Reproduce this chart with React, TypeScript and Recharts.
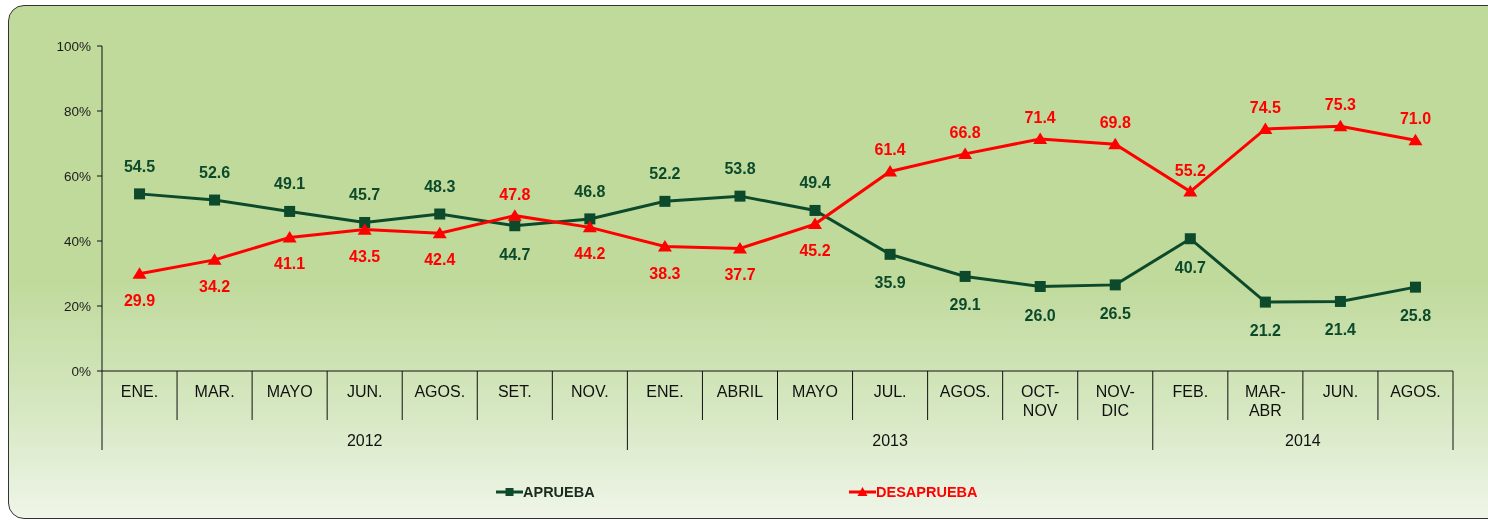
import React from "react";
import { LineChart, Line, XAxis, YAxis, Legend, LabelList } from "recharts";

// periods shown on the x axis ("\n" splits two-line labels)
const months = [
  "ENE.", "MAR.", "MAYO", "JUN.", "AGOS.", "SET.", "NOV.",
  "ENE.", "ABRIL", "MAYO", "JUL.", "AGOS.", "OCT-\nNOV", "NOV-\nDIC",
  "FEB.", "MAR-\nABR", "JUN.", "AGOS.",
];

const yearGroups = [
  { year: "2012", count: 7 },
  { year: "2013", count: 7 },
  { year: "2014", count: 4 },
];

const aprueba = [54.5, 52.6, 49.1, 45.7, 48.3, 44.7, 46.8, 52.2, 53.8, 49.4, 35.9, 29.1, 26.0, 26.5, 40.7, 21.2, 21.4, 25.8];
const desaprueba = [29.9, 34.2, 41.1, 43.5, 42.4, 47.8, 44.2, 38.3, 37.7, 45.2, 61.4, 66.8, 71.4, 69.8, 55.2, 74.5, 75.3, 71.0];

const yTicks = [0, 20, 40, 60, 80, 100];

const data = months.map((month, i) => ({
  month,
  aprueba: aprueba[i],
  desaprueba: desaprueba[i],
}));

const W = 1488;
const H = 521;
const PLOT_LEFT = 102;
const PLOT_RIGHT = 1453;
const BAND = (PLOT_RIGHT - PLOT_LEFT) / months.length;
const GREEN = "#0C4A2B";
const RED = "#FF0000";
const FONT = "'Liberation Sans', Arial, sans-serif";

// index at which each year group starts
const groupStarts: number[] = [];
yearGroups.reduce((acc, g) => {
  groupStarts.push(acc);
  return acc + g.count;
}, 0);

function MonthTick(props: any) {
  const { x, y, payload } = props;
  const i = payload?.index ?? props.index;
  const left = x - BAND / 2;
  const g = groupStarts.indexOf(i);
  const lines = String(payload.value).split("\n");
  return (
    <g>
      <line x1={left} x2={left} y1={y} y2={y + (g >= 0 ? 79 : 49)} stroke="#111" strokeWidth={1} />
      {i === months.length - 1 && (
        <line x1={x + BAND / 2} x2={x + BAND / 2} y1={y} y2={y + 79} stroke="#111" strokeWidth={1} />
      )}
      {lines.map((t, k) => (
        <text key={k} x={x} y={y + 25.5 + k * 19.5} textAnchor="middle" fontSize={16} fill="#111" fontFamily={FONT}>
          {t}
        </text>
      ))}
      {g >= 0 && (
        <text x={left + (yearGroups[g].count * BAND) / 2} y={y + 75} textAnchor="middle" fontSize={16} fill="#111" fontFamily={FONT}>
          {yearGroups[g].year}
        </text>
      )}
    </g>
  );
}

const SquareDot = (props: any) => {
  const { cx, cy, index } = props;
  return <rect key={`s-${index}`} x={cx - 5.5} y={cy - 5.5} width={11} height={11} fill={GREEN} />;
};

const TriangleDot = (props: any) => {
  const { cx, cy, index } = props;
  return <path key={`t-${index}`} d={`M${cx},${cy - 6.5} L${cx + 7},${cy + 5} L${cx - 7},${cy + 5} Z`} fill={RED} />;
};

function makeLabel(series: "a" | "d") {
  return (props: any) => {
    const vb = props.viewBox || {};
    const px = props.x ?? vb.x;
    const py = props.y ?? vb.y;
    const i = props.index;
    const value = Number(props.value);
    const other = series === "a" ? desaprueba[i] : aprueba[i];
    const above = value >= other;
    const dy = above ? (series === "a" ? -22 : -16) : (series === "a" ? 34 : 32);
    return (
      <text x={px} y={py + dy} textAnchor="middle" fontSize={16} fontWeight="bold" fill={series === "a" ? GREEN : RED} fontFamily={FONT}>
        {value.toFixed(1)}
      </text>
    );
  };
}

function LegendContent() {
  const item = (left: number, name: string, color: string, textColor: string, marker: React.ReactNode) => (
    <div style={{ position: "absolute", left, top: 0, display: "flex", alignItems: "center", height: 24 }}>
      <svg width={27} height={14}>
        <line x1={0} x2={27} y1={7} y2={7} stroke={color} strokeWidth={3} />
        {marker}
      </svg>
      <span style={{ fontFamily: FONT, fontWeight: "bold", fontSize: 14.5, color: textColor }}>{name}</span>
    </div>
  );
  return (
    <div style={{ position: "relative", width: W, height: 24 }}>
      {item(496, "APRUEBA", GREEN, "#1B2B1E", <rect x={9.5} y={3} width={8} height={8} fill={GREEN} />)}
      {item(849, "DESAPRUEBA", RED, RED, <path d="M13.5,2 L18.5,11 L8.5,11 Z" fill={RED} />)}
    </div>
  );
}

export default function App() {
  return (
    <div style={{ position: "fixed", left: 0, top: 0, width: W, height: H, overflow: "hidden" }}>
      <div
        style={{
          position: "absolute",
          left: 8,
          top: 5,
          width: 1520,
          height: 512,
          borderRadius: 16,
          border: "1.5px solid #333",
          background: "linear-gradient(to bottom, #C0DA9C 0%, #C0DA9C 54%, #D5E7C0 78%, #EFF5E8 100%)",
        }}
      />
      <div style={{ position: "absolute", left: 0, top: 0 }}>
        <LineChart width={W} height={H} data={data} margin={{ top: 46, right: 35, left: 42, bottom: 50 }}>
          <XAxis
            dataKey="month"
            height={100}
            interval={0}
            padding={{ left: BAND / 2, right: BAND / 2 }}
            tickLine={false}
            tickSize={0}
            tickMargin={0}
            axisLine={{ stroke: "#111", strokeWidth: 1 }}
            tick={<MonthTick />}
          />
          <YAxis
            domain={[0, 100]}
            ticks={yTicks}
            width={60}
            tickSize={5}
            tickMargin={6}
            tickFormatter={(v) => `${v}%`}
            axisLine={{ stroke: "#111", strokeWidth: 1 }}
            tickLine={{ stroke: "#111" }}
            tick={{ fontSize: 13.5, fill: "#1a1a1a", fontFamily: FONT }}
          />
          <Legend
            layout="horizontal"
            verticalAlign="middle"
            align="center"
            wrapperStyle={{ top: 480, left: 0, width: W, height: 24 }}
            content={() => <LegendContent />}
          />
          <Line
            type="linear"
            dataKey="aprueba"
            name="APRUEBA"
            stroke={GREEN}
            strokeWidth={3}
            dot={SquareDot}
            activeDot={false}
            isAnimationActive={false}
          >
            <LabelList dataKey="aprueba" content={makeLabel("a")} />
          </Line>
          <Line
            type="linear"
            dataKey="desaprueba"
            name="DESAPRUEBA"
            stroke={RED}
            strokeWidth={3}
            dot={TriangleDot}
            activeDot={false}
            isAnimationActive={false}
          >
            <LabelList dataKey="desaprueba" content={makeLabel("d")} />
          </Line>
        </LineChart>
      </div>
    </div>
  );
}
